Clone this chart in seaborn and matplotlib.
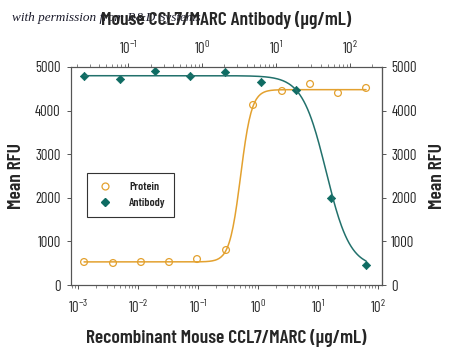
import numpy as np
import pandas as pd
import seaborn as sns
from matplotlib import pyplot as plt
from matplotlib.lines import Line2D

# Recombinant Mouse CCL7/MARC (ug/mL) -> Mean RFU
protein_conc = [0.00126, 0.00383, 0.0112, 0.0329, 0.0962, 0.293, 0.826, 2.51, 7.36, 21.5, 63.1]
protein_rfu = [528, 505, 528, 528, 596, 803, 4129, 4450, 4611, 4404, 4519]

# Mouse CCL7/MARC Antibody (ug/mL) -> Mean RFU
antibody_conc = [0.0252, 0.0773, 0.230, 0.684, 2.04, 6.25, 18.6, 55.5, 165.0]
antibody_rfu = [4794, 4725, 4908, 4794, 4885, 4656, 4473, 1995, 459]

# 4PL fit parameters: bottom, top, log10 EC50, hill
protein_fit = (530, 4480, -0.29, 4.7)
antibody_fit = (400, 4800, 1.677, -2.69)

ORANGE = '#E3A12F'
TEAL = '#0E6B62'
CURVE_TEAL = '#22716C'
FONT = 'Barlow Condensed'


def four_pl(logx, fit):
    bottom, top, log_ec50, hill = fit
    return bottom + (top - bottom) / (1 + 10 ** (hill * (log_ec50 - logx)))


def fit_frame(conc, fit):
    lx = np.linspace(np.log10(min(conc)), np.log10(max(conc)), 300)
    return pd.DataFrame({'conc': 10 ** lx, 'rfu': four_pl(lx, fit)})


sns.set_style('ticks')
plt.rcParams['font.family'] = [FONT, 'DejaVu Sans']
plt.rcParams['mathtext.fontset'] = 'custom'
plt.rcParams['mathtext.rm'] = FONT
plt.rcParams['mathtext.it'] = FONT + ':italic'
plt.rcParams['mathtext.bf'] = FONT + ':bold'

fig = plt.figure(figsize=(4.5, 3.52), dpi=100)
ax = fig.add_axes([0.1567, 0.1903, 0.6911, 0.6194])
ax_top = ax.twiny()

prot_df = pd.DataFrame({'conc': protein_conc, 'rfu': protein_rfu})
ab_df = pd.DataFrame({'conc': antibody_conc, 'rfu': antibody_rfu})

sns.lineplot(data=fit_frame(protein_conc, protein_fit), x='conc', y='rfu', ax=ax,
             color=ORANGE, lw=1.1)
sns.scatterplot(data=prot_df, x='conc', y='rfu', ax=ax, marker='o', s=24,
                facecolor='none', edgecolor=ORANGE, linewidth=0.9)

sns.lineplot(data=fit_frame(antibody_conc, antibody_fit), x='conc', y='rfu', ax=ax_top,
             color=CURVE_TEAL, lw=1.1)
sns.scatterplot(data=ab_df, x='conc', y='rfu', ax=ax_top, marker='D', s=18,
                color=TEAL, edgecolor=TEAL, linewidth=0.5)

ax.set_xscale('log')
ax_top.set_xscale('log')
ax.set_xlim(10 ** -3.125, 10 ** 2.058)
ax_top.set_xlim(10 ** -1.782, 10 ** 2.426)
ax.set_ylim(0, 5000)
ax.set_yticks(range(0, 5001, 1000))

for a in (ax, ax_top):
    for s in a.spines.values():
        s.set_visible(True)
        s.set_color('#555555')
        s.set_linewidth(0.8)
    a.tick_params(which='major', length=3, width=0.7, color='#555555', labelsize=10.5)
    a.tick_params(which='minor', length=2, width=0.5, color='#555555')
ax.tick_params(axis='x', pad=7)
ax_top.tick_params(axis='x', pad=4)
ax.tick_params(axis='y', pad=4)

lab_font = dict(fontsize=14, fontweight='semibold')
ax.set_xlabel('Recombinant Mouse CCL7/MARC (\u03bcg/mL)', labelpad=9, **lab_font)
ax_top.set_xlabel('Mouse CCL7/MARC Antibody (\u03bcg/mL)', labelpad=11, **lab_font)
ax.set_ylabel('Mean RFU', labelpad=7, **lab_font)
ax_top.set_ylabel('')
right = ax.secondary_yaxis('right')
right.set_yticks(range(0, 5001, 1000))
right.tick_params(length=3, width=0.7, color='#555555', labelsize=10.5, pad=4)
right.set_ylabel('Mean RFU', labelpad=9, **lab_font)
right.spines['right'].set_color('#555555')

handles = [
    Line2D([], [], ls='none', marker='o', mfc='none', mec=ORANGE, ms=5, mew=0.9),
    Line2D([], [], ls='none', marker='D', color=TEAL, ms=4),
]
leg = ax_top.legend(handles, ['Protein', 'Antibody'], loc='upper left',
                    bbox_to_anchor=(0.053, 0.514), borderaxespad=0, fancybox=False,
                    edgecolor='#333333', framealpha=1, prop={'size': 8.5, 'weight': 'semibold'},
                    handletextpad=1.2, handlelength=1.6, borderpad=0.75, labelspacing=0.5)
leg.get_frame().set_linewidth(0.8)

# watermark sits under the top axis title, as in the source image
fig.text(0.026, 0.94, 'with permission from R&D Systems', family='Liberation Serif',
         style='italic', fontsize=9.5, color='#1a1a2a', zorder=-1)

fig.savefig('out.png', dpi=100)
